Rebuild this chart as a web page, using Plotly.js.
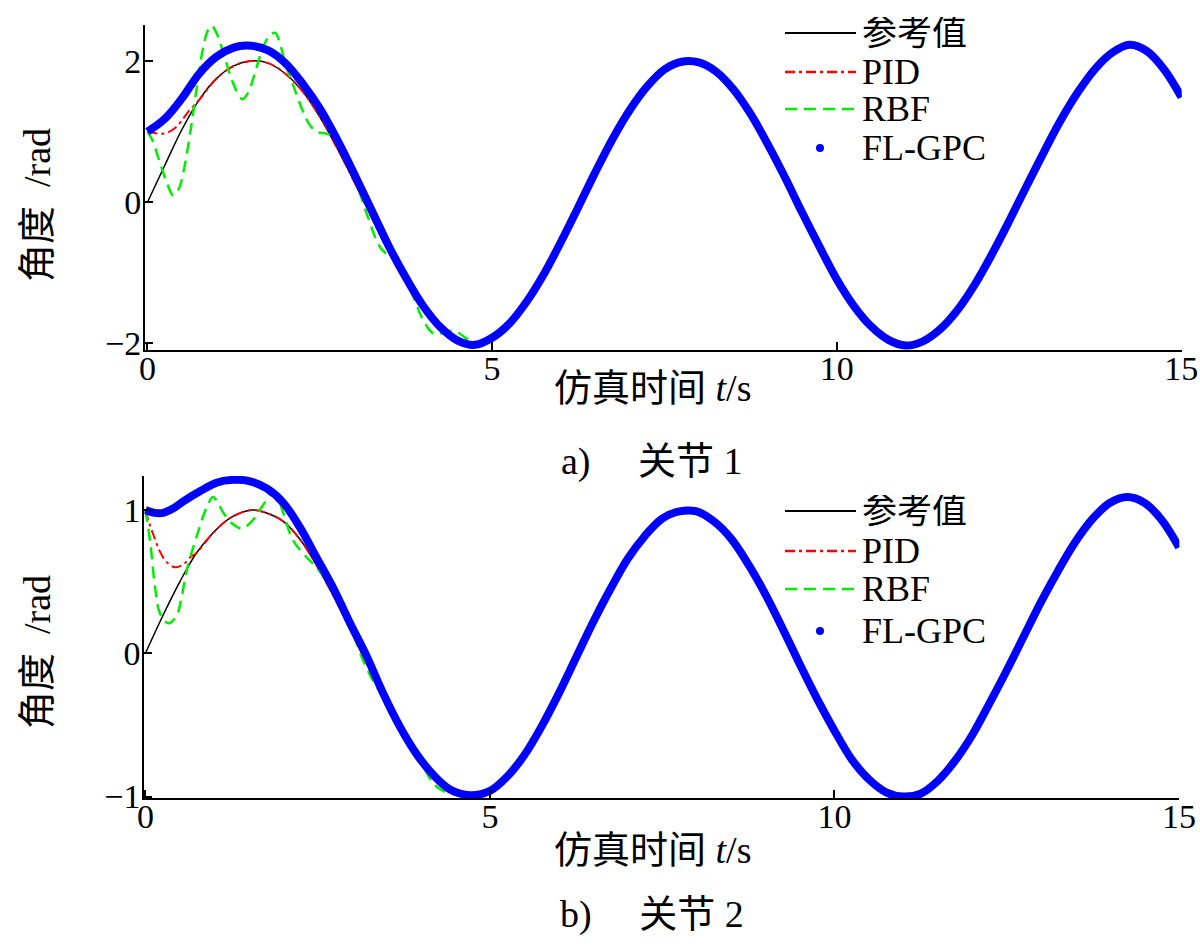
<!DOCTYPE html>
<html><head><meta charset="utf-8">
<script src="https://cdn.plot.ly/plotly-3.0.1.min.js"></script>
<style>html,body{margin:0;padding:0;background:#fff}#chart{width:1200px;height:947px}</style>
</head><body><div id="chart"></div>
<script>
// ---------- data ----------
// shared tail (t >= 5 s), where all four curves coincide
const tTail = [5.0,5.25,5.5,5.75,6.0,6.25,6.5,6.75,7.0,7.25,7.5,7.75,8.0,8.25,8.5,8.75,9.0,9.25,9.5,9.75,10.0,10.25,10.5,10.75,11.0,11.25,11.5,11.75,12.0,12.25,12.5,12.75,13.0,13.25,13.5,13.75,14.0,14.25,14.5,14.75,15.0];
const joint1Tail = [-1.92,-1.72,-1.41,-1.02,-0.56,-0.07,0.43,0.90,1.31,1.64,1.88,1.99,1.98,1.85,1.60,1.25,0.82,0.35,-0.15,-0.63,-1.09,-1.47,-1.76,-1.95,-2.03,-1.97,-1.80,-1.53,-1.17,-0.74,-0.27,0.22,0.70,1.16,1.56,1.89,2.12,2.23,2.14,1.88,1.49];
const joint2Tail = [-0.96,-0.86,-0.71,-0.51,-0.28,-0.03,0.22,0.45,0.66,0.82,0.94,0.99,0.99,0.92,0.80,0.62,0.41,0.17,-0.08,-0.32,-0.54,-0.74,-0.88,-0.97,-1.0,-0.98,-0.89,-0.75,-0.57,-0.35,-0.12,0.12,0.36,0.58,0.78,0.94,1.05,1.09,1.05,0.93,0.74];

// joint 1, first 4.75 s
const ref1T = [0,0.25,0.5,0.75,1.0,1.25,1.5,1.75,2.0,2.25,2.5,2.75,3.0,3.25,3.5,3.75,4.0,4.25,4.5,4.75];
const ref1Y = [0,0.52,1.03,1.45,1.75,1.93,2.0,1.97,1.82,1.57,1.21,0.77,0.29,-0.21,-0.70,-1.14,-1.51,-1.78,-1.95,-2.0];
const pid1T = [0,0.1,0.2,0.3,0.4,0.5,0.6,0.75,1.0,1.25,1.5,1.75,2.0,2.25,2.5,2.75,3.0,3.25,3.5,3.75,4.0,4.25,4.5,4.75];
const pid1Y = [1.0,0.98,0.97,0.99,1.05,1.16,1.29,1.45,1.75,1.93,2.0,1.97,1.82,1.57,1.21,0.77,0.29,-0.21,-0.70,-1.14,-1.51,-1.78,-1.95,-2.0];
const rbf1T = [0,0.08,0.16,0.28,0.37,0.45,0.52,0.62,0.71,0.80,0.87,0.93,1.0,1.10,1.2,1.3,1.38,1.46,1.55,1.65,1.75,1.85,1.93,2.0,2.12,2.25,2.35,2.45,2.6,2.72,2.84,3.0,3.18,3.37,3.48,3.58,3.7,3.85,4.0,4.15,4.3,4.45,4.6,4.75];
const rbf1Y = [1.0,0.86,0.62,0.28,0.10,0.18,0.42,0.98,1.59,2.15,2.42,2.50,2.40,2.12,1.80,1.56,1.46,1.55,1.80,2.12,2.33,2.40,2.22,1.96,1.64,1.30,1.10,1.00,0.97,0.92,0.72,0.36,-0.16,-0.63,-0.74,-0.79,-0.98,-1.32,-1.67,-1.86,-1.85,-1.82,-1.91,-2.0];
const gpc1T = [0,0.25,0.5,0.75,1.0,1.25,1.45,1.75,2.0,2.25,2.5,2.75,3.0,3.25,3.5,3.75,4.0,4.25,4.5,4.75];
const gpc1Y = [1.0,1.18,1.47,1.82,2.06,2.19,2.22,2.15,1.97,1.68,1.33,0.89,0.40,-0.11,-0.62,-1.07,-1.47,-1.77,-1.96,-2.02];

// joint 2, first 4.75 s
const ref2T = [0,0.25,0.5,0.74,1.0,1.25,1.55,1.75,2.0,2.25,2.5,2.75,3.0,3.25,3.5,3.75,4.0,4.25,4.5,4.75];
const ref2Y = [0,0.26,0.50,0.70,0.85,0.95,1.0,0.98,0.92,0.79,0.60,0.38,0.14,-0.11,-0.35,-0.57,-0.76,-0.90,-0.98,-1.0];
const pid2T = [0,0.06,0.12,0.2,0.3,0.43,0.55,0.65,0.74,1.0,1.25,1.55,1.75,2.0,2.25,2.5,2.75,3.0,3.25,3.5,3.75,4.0,4.25,4.5,4.75];
const pid2Y = [1.0,0.90,0.82,0.72,0.64,0.60,0.62,0.67,0.70,0.85,0.95,1.0,0.98,0.92,0.79,0.60,0.38,0.14,-0.11,-0.35,-0.57,-0.76,-0.90,-0.98,-1.0];
const rbf2T = [0,0.07,0.14,0.21,0.33,0.45,0.52,0.6,0.74,0.89,0.98,1.05,1.13,1.27,1.40,1.56,1.7,1.85,1.93,2.0,2.14,2.34,2.48,2.72,2.97,3.16,3.35,3.5,3.69,3.93,4.18,4.42,4.66,4.75];
const rbf2Y = [1.0,0.77,0.46,0.28,0.21,0.26,0.38,0.58,0.81,1.02,1.09,1.05,0.98,0.90,0.87,0.93,1.03,1.12,1.07,0.98,0.79,0.67,0.60,0.44,0.19,-0.05,-0.23,-0.33,-0.49,-0.67,-0.91,-0.98,-0.99,-1.0];
const gpc2T = [0,0.13,0.26,0.4,0.55,0.79,1.03,1.27,1.52,1.76,2.0,2.24,2.48,2.72,2.97,3.21,3.45,3.69,3.93,4.18,4.42,4.71];
const gpc2Y = [1.0,0.98,0.98,1.01,1.06,1.13,1.19,1.21,1.20,1.15,1.05,0.88,0.67,0.46,0.21,-0.02,-0.28,-0.51,-0.70,-0.85,-0.95,-0.99];

const seriesNames = ['参考值','PID','RBF','FL-GPC'];
const xTicks = [0,5,10,15];
const y1Ticks = [-2,0,2];
const y2Ticks = [-1,0,1];

// ---------- build ----------
const W = 1200, H = 947;
const px = v => v / W, py = v => 1 - v / H;
const FONT = "'Liberation Serif', 'Times New Roman', 'Noto Sans CJK SC', serif";
const styles = [
  {color:'#000000', width:1.5, dash:'solid'},
  {color:'#ff0000', width:2, dash:'10px,4px,3px,4px'},
  {color:'#00ee00', width:2.5, dash:'12px,7px'},
  {color:'#0000ff', width:8, dash:'solid'}
];
function build(heads, tail, xa, ya) {
  return heads.map((h, i) => ({
    x: h[0].concat(tTail), y: h[1].concat(tail), xaxis: xa, yaxis: ya,
    name: seriesNames[i], type: 'scatter', mode: 'lines', showlegend: false,
    line: {color: styles[i].color, width: styles[i].width, dash: styles[i].dash, shape: 'spline', smoothing: 1}
  }));
}
const data = build([[ref1T,ref1Y],[pid1T,pid1Y],[rbf1T,rbf1Y],[gpc1T,gpc1Y]], joint1Tail, 'x', 'y')
  .concat(build([[ref2T,ref2Y],[pid2T,pid2Y],[rbf2T,rbf2Y],[gpc2T,gpc2Y]], joint2Tail, 'x2', 'y2'));

const axisBase = {showline:true, linecolor:'#000', linewidth:2, ticks:'inside', ticklen:8, tickwidth:2, tickcolor:'#000',
  showgrid:false, zeroline:false, tickfont:{family:FONT, size:34, color:'#000'}, fixedrange:true};
const xAxisBase = Object.assign({}, axisBase, {ticklabelstandoff:-13});
const yAxisBase = Object.assign({}, axisBase, {ticklabelstandoff:-5});
const textFont = {family:FONT, size:38, color:'#000'};
const neg = v => v < 0 ? '\u2212' + (-v) : String(v);

// legend keys (drawn as shapes + text), one block per panel
const shapes = [], annotations = [];
function legendBlock(rows) {
  rows.forEach((yc, i) => {
    if (i < 3) {
      shapes.push({type:'line', xref:'paper', yref:'paper', x0:px(785), x1:px(856), y0:py(yc), y1:py(yc),
        line:{color:styles[i].color, width:i === 0 ? 2 : 2.5, dash:styles[i].dash}});
    } else {
      shapes.push({type:'circle', xref:'paper', yref:'paper', x0:px(816), x1:px(824), y0:py(yc+4), y1:py(yc-4),
        fillcolor:'#0000ff', line:{color:'#0000ff', width:0}});
    }
    annotations.push({text:seriesNames[i], x:px(861), y:py(yc), xref:'paper', yref:'paper', xanchor:'left', yanchor:'middle',
      height:32, borderpad:0, valign:'middle', showarrow:false,
      font:{family:FONT, size:i === 0 ? 35 : 36, color:'#000'}});
  });
}
legendBlock([33, 72, 109, 148]);
legendBlock([511, 551, 589, 631]);

function centered(text, x, y, angle) {
  annotations.push({text, x:px(x), y:py(y), xref:'paper', yref:'paper', xanchor:'center', yanchor:'middle',
    textangle:angle || 0, showarrow:false, font:textFont});
}
centered('角度  /rad', 37, 205, -90);
centered('仿真时间 <i>t</i>/s', 652, 388);
centered('a)\u3000 关节 1', 652, 462);
centered('角度  /rad', 37, 652, -90);
centered('仿真时间 <i>t</i>/s', 652, 850);
centered('b)\u3000 关节 2', 652, 914);

const layout = {
  width:W, height:H, margin:{l:0,r:0,t:0,b:0}, paper_bgcolor:'#fff', plot_bgcolor:'#fff', showlegend:false,
  xaxis: Object.assign({}, xAxisBase, {domain:[0.12083,0.98475], range:[-0.036,15.005], anchor:'y', tickvals:xTicks}),
  yaxis: Object.assign({}, yAxisBase, {domain:[0.63041,0.97360], range:[-2.093,2.51], anchor:'x',
    tickvals:y1Ticks.concat([2.505]), ticktext:y1Ticks.map(neg).concat([''])}),
  xaxis2: Object.assign({}, xAxisBase, {domain:[0.12025,0.98275], range:[-0.017,15.005], anchor:'y2', tickvals:xTicks}),
  yaxis2: Object.assign({}, yAxisBase, {domain:[0.15702,0.49736], range:[-1.012,1.237], anchor:'x2',
    tickvals:y2Ticks.concat([1.232]), ticktext:y2Ticks.map(neg).concat([''])}),
  shapes, annotations
};
Plotly.newPlot('chart', data, layout, {displayModeBar:false, staticPlot:true});
</script>
</body></html>
